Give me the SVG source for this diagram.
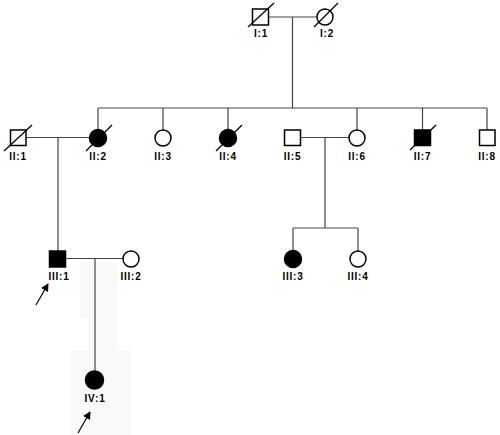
<svg xmlns="http://www.w3.org/2000/svg" width="500" height="435" viewBox="0 0 500 435">
<style>
.ln{stroke:#444;stroke-width:1.2;fill:none}
.sh{stroke:#000;stroke-width:1.5;fill:#fff}
.sl{stroke:#000;stroke-width:1.3}
.lb{font-family:"Liberation Sans",Arial,sans-serif;font-weight:bold;font-size:10px;letter-spacing:0.8px;text-anchor:middle;fill:#000}
.ar{stroke:#000;stroke-width:1.2}
</style>
<defs>
<marker id="ah" markerWidth="8" markerHeight="8" refX="7" refY="4" orient="auto" markerUnits="userSpaceOnUse">
<path d="M0,0 L8,4 L0,8 Z" fill="#000"/>
</marker>
</defs>
<rect width="500" height="435" fill="#fff"/>
<g id="bg" fill="#f9f9f9">
<rect x="80" y="262" width="37" height="56"/>
<rect x="88" y="318" width="29" height="32"/>
<rect x="71" y="350" width="60" height="85"/>
</g>
<g id="connectors">
<line class="ln" x1="269" y1="17" x2="317" y2="17"/>
<line class="ln" x1="292.5" y1="17" x2="292.5" y2="108"/>
<line class="ln" x1="98" y1="108" x2="487" y2="108"/>
<line class="ln" x1="98" y1="108" x2="98" y2="130"/>
<line class="ln" x1="163" y1="108" x2="163" y2="130"/>
<line class="ln" x1="228" y1="108" x2="228" y2="130"/>
<line class="ln" x1="357" y1="108" x2="357" y2="130"/>
<line class="ln" x1="422.5" y1="108" x2="422.5" y2="130"/>
<line class="ln" x1="487" y1="108" x2="487" y2="130"/>
<line class="ln" x1="26" y1="137.5" x2="90" y2="137.5"/>
<line class="ln" x1="58" y1="137.5" x2="58" y2="251"/>
<line class="ln" x1="301" y1="137.5" x2="349" y2="137.5"/>
<line class="ln" x1="325" y1="137.5" x2="325" y2="228"/>
<line class="ln" x1="293" y1="228" x2="358" y2="228"/>
<line class="ln" x1="293" y1="228" x2="293" y2="251"/>
<line class="ln" x1="358" y1="228" x2="358" y2="251"/>
<line class="ln" x1="66" y1="258.5" x2="123" y2="258.5"/>
<line class="ln" x1="95" y1="258.5" x2="95" y2="371"/>
</g>
<g id="I1"><rect class="sh" x="252.5" y="9" width="16" height="16"/><line class="sl" x1="248" y1="27" x2="274" y2="3"/><text class="lb" x="261" y="37">I:1</text></g>
<g id="I2"><circle class="sh" cx="325" cy="17" r="8"/><line class="sl" x1="314" y1="27" x2="338" y2="3"/><text class="lb" x="327" y="37">I:2</text></g>
<g id="II1"><rect class="sh" x="10.5" y="130" width="15.5" height="15.5"/><line class="sl" x1="4" y1="151" x2="32" y2="125"/><text class="lb" x="18" y="160">II:1</text></g>
<g id="II2"><circle class="sh" cx="98" cy="138" r="8.5" style="fill:#000"/><line class="sl" x1="86" y1="151" x2="112" y2="125"/><text class="lb" x="98" y="160">II:2</text></g>
<g id="II3"><circle class="sh" cx="163" cy="138" r="8"/><text class="lb" x="163" y="160">II:3</text></g>
<g id="II4"><circle class="sh" cx="228" cy="138" r="8.5" style="fill:#000"/><line class="sl" x1="216" y1="151" x2="242" y2="125"/><text class="lb" x="228" y="160">II:4</text></g>
<g id="II5"><rect class="sh" x="284.5" y="130" width="16" height="15.5"/><text class="lb" x="292.5" y="160">II:5</text></g>
<g id="II6"><circle class="sh" cx="357" cy="138" r="8"/><text class="lb" x="357" y="160">II:6</text></g>
<g id="II7"><rect class="sh" x="414.5" y="130" width="16" height="15.5" style="fill:#000"/><line class="sl" x1="410" y1="150" x2="436" y2="125"/><text class="lb" x="422.5" y="160">II:7</text></g>
<g id="II8"><rect class="sh" x="479.5" y="130" width="15.5" height="15.5"/><text class="lb" x="487" y="160">II:8</text></g>
<g id="III1"><rect class="sh" x="49.5" y="251" width="16" height="16" style="fill:#000"/><text class="lb" x="59" y="280">III:1</text><line class="ar" x1="36" y1="305" x2="48" y2="284" marker-end="url(#ah)"/></g>
<g id="III2"><circle class="sh" cx="131" cy="259" r="8"/><text class="lb" x="131" y="280">III:2</text></g>
<g id="III3"><circle class="sh" cx="293" cy="259" r="8.5" style="fill:#000"/><text class="lb" x="293" y="280">III:3</text></g>
<g id="III4"><circle class="sh" cx="358" cy="259" r="8"/><text class="lb" x="358" y="280">III:4</text></g>
<g id="IV1"><circle class="sh" cx="94.5" cy="380" r="9" style="fill:#000"/><text class="lb" x="95" y="402">IV:1</text><line class="ar" x1="78" y1="433" x2="90" y2="412" marker-end="url(#ah)"/></g>
</svg>
